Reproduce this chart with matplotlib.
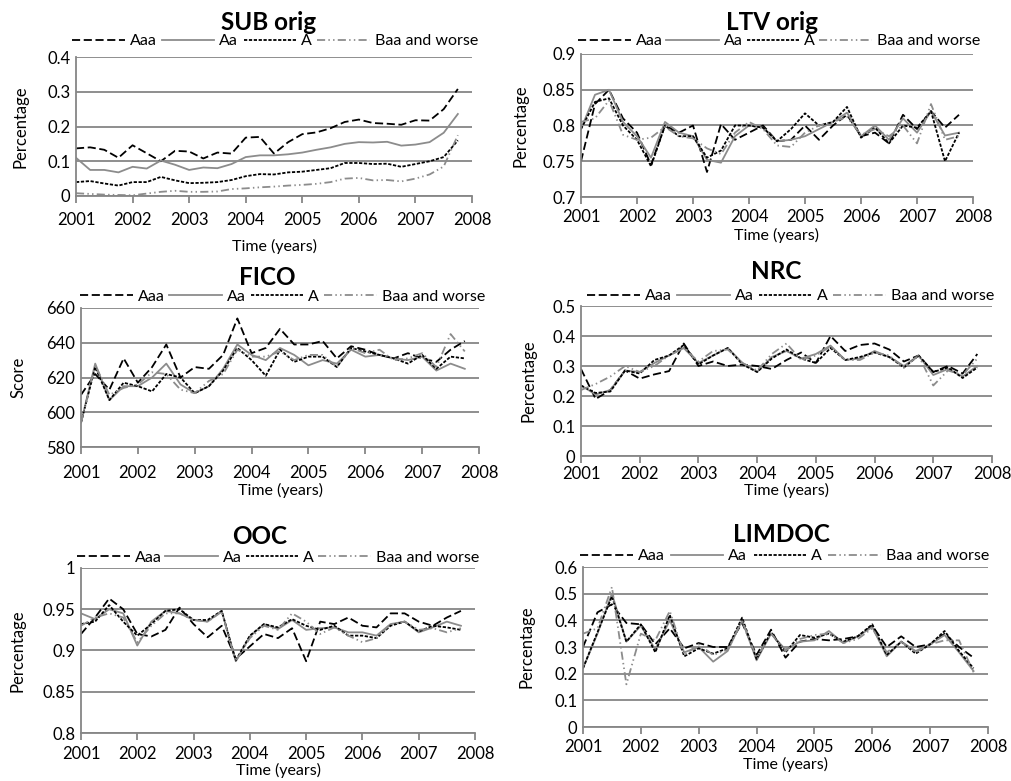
import numpy as np
import matplotlib
matplotlib.use('Agg')
import matplotlib.pyplot as plt

plt.rcParams['font.family'] = ['Lato', 'DejaVu Sans']

quarters = 2001 + np.arange(28) * 0.25
series_names = ['Aaa', 'Aa', 'A', 'Baa and worse']

# SUB orig
sub_aaa = [0.137, 0.14, 0.133, 0.11, 0.146, 0.123, 0.10, 0.13, 0.128, 0.108, 0.125, 0.122, 0.168, 0.17,
           0.122, 0.155, 0.178, 0.183, 0.195, 0.213, 0.22, 0.21, 0.208, 0.205, 0.218, 0.217, 0.25, 0.308]
sub_aa = [0.11, 0.075, 0.075, 0.068, 0.084, 0.079, 0.102, 0.09, 0.075, 0.082, 0.08, 0.092, 0.112, 0.117,
          0.117, 0.12, 0.125, 0.133, 0.14, 0.15, 0.155, 0.154, 0.156, 0.145, 0.148, 0.155, 0.182, 0.236]
sub_a = [0.04, 0.043, 0.036, 0.03, 0.04, 0.04, 0.055, 0.045, 0.037, 0.038, 0.04, 0.046, 0.057, 0.063,
         0.062, 0.068, 0.07, 0.075, 0.08, 0.095, 0.095, 0.092, 0.093, 0.084, 0.092, 0.1, 0.112, 0.16]
sub_baa = [0.008, 0.006, 0.004, 0.003, 0.002, 0.007, 0.012, 0.015, 0.012, 0.012, 0.013, 0.02, 0.022, 0.025,
           0.027, 0.03, 0.032, 0.035, 0.04, 0.05, 0.052, 0.045, 0.046, 0.042, 0.05, 0.062, 0.085, 0.175]

# LTV orig
ltv_aaa = [0.75, 0.83, 0.85, 0.81, 0.79, 0.745, 0.80, 0.79, 0.80, 0.735, 0.802, 0.78, 0.79, 0.80,
           0.778, 0.78, 0.80, 0.78, 0.80, 0.815, 0.785, 0.79, 0.775, 0.815, 0.795, 0.82, 0.797, 0.815]
ltv_aa = [0.795, 0.843, 0.85, 0.805, 0.785, 0.755, 0.805, 0.79, 0.785, 0.752, 0.748, 0.785, 0.80, 0.797,
          0.778, 0.78, 0.785, 0.795, 0.805, 0.818, 0.785, 0.80, 0.78, 0.81, 0.79, 0.82, 0.786, 0.79]
ltv_a = [0.795, 0.833, 0.838, 0.80, 0.78, 0.743, 0.80, 0.785, 0.785, 0.755, 0.765, 0.80, 0.80, 0.797,
         0.778, 0.795, 0.817, 0.80, 0.805, 0.826, 0.783, 0.797, 0.775, 0.80, 0.797, 0.82, 0.75, 0.79]
ltv_baa = [0.805, 0.81, 0.835, 0.787, 0.78, 0.783, 0.798, 0.785, 0.782, 0.768, 0.76, 0.79, 0.805, 0.795,
           0.772, 0.77, 0.79, 0.80, 0.805, 0.812, 0.787, 0.795, 0.785, 0.80, 0.775, 0.83, 0.78, 0.785]

# FICO
fico_aaa = [610, 622, 613, 631, 617, 626, 639, 620, 626, 625, 633, 654, 634, 637,
            648, 639, 639, 641, 631, 638, 636, 633, 631, 634, 631, 629, 636, 641]
fico_aa = [594, 628, 607, 615, 615, 620, 628, 616, 611, 615, 625, 639, 633, 630,
           637, 633, 627, 630, 628, 636, 632, 633, 631, 630, 632, 624, 628, 625]
fico_a = [594, 626, 607, 617, 615, 612, 622, 620, 611, 615, 624, 637, 630, 621,
          636, 629, 632, 632, 626, 637, 635, 633, 631, 628, 633, 625, 632, 631]
fico_baa = [594, 627, 610, 614, 616, 623, 622, 613, 611, 618, 622, 636, 632, 632,
            635, 630, 633, 633, 626, 637, 634, 636, 630, 631, 634, 626, 645, 635]

# NRC
nrc_aaa = [0.29, 0.19, 0.22, 0.285, 0.258, 0.272, 0.283, 0.375, 0.30, 0.315, 0.30, 0.305, 0.30, 0.29,
           0.32, 0.345, 0.31, 0.40, 0.35, 0.37, 0.375, 0.355, 0.315, 0.335, 0.28, 0.30, 0.275, 0.34]
nrc_aa = [0.235, 0.205, 0.22, 0.285, 0.28, 0.31, 0.335, 0.36, 0.31, 0.335, 0.36, 0.31, 0.28, 0.33,
          0.35, 0.325, 0.34, 0.368, 0.32, 0.325, 0.35, 0.33, 0.30, 0.335, 0.27, 0.29, 0.265, 0.30]
nrc_a = [0.235, 0.21, 0.215, 0.285, 0.275, 0.32, 0.335, 0.37, 0.305, 0.335, 0.36, 0.305, 0.28, 0.325,
         0.355, 0.325, 0.31, 0.36, 0.32, 0.33, 0.345, 0.33, 0.295, 0.335, 0.28, 0.295, 0.26, 0.295]
nrc_baa = [0.22, 0.24, 0.265, 0.30, 0.28, 0.30, 0.335, 0.36, 0.315, 0.35, 0.355, 0.31, 0.285, 0.34,
           0.375, 0.32, 0.335, 0.365, 0.32, 0.32, 0.345, 0.335, 0.295, 0.335, 0.235, 0.285, 0.27, 0.325]

# OOC
ooc_aaa = [0.92, 0.94, 0.963, 0.95, 0.92, 0.917, 0.925, 0.952, 0.932, 0.916, 0.93, 0.89, 0.905, 0.92,
           0.915, 0.927, 0.887, 0.935, 0.932, 0.94, 0.93, 0.928, 0.945, 0.945, 0.935, 0.93, 0.94, 0.948]
ooc_aa = [0.945, 0.938, 0.95, 0.945, 0.906, 0.935, 0.948, 0.945, 0.937, 0.935, 0.948, 0.887, 0.917, 0.932,
          0.926, 0.937, 0.925, 0.927, 0.928, 0.922, 0.922, 0.918, 0.932, 0.935, 0.922, 0.928, 0.935, 0.93]
ooc_a = [0.932, 0.935, 0.955, 0.935, 0.918, 0.932, 0.948, 0.95, 0.937, 0.937, 0.948, 0.888, 0.918, 0.932,
         0.928, 0.938, 0.93, 0.925, 0.93, 0.918, 0.918, 0.915, 0.93, 0.935, 0.923, 0.93, 0.928, 0.925]
ooc_baa = [0.93, 0.94, 0.945, 0.94, 0.91, 0.93, 0.945, 0.945, 0.937, 0.935, 0.947, 0.887, 0.915, 0.93,
           0.925, 0.945, 0.935, 0.92, 0.928, 0.918, 0.91, 0.915, 0.932, 0.935, 0.925, 0.927, 0.922, 0.927]

# LIMDOC
lim_aaa = [0.30, 0.43, 0.46, 0.39, 0.385, 0.31, 0.37, 0.295, 0.315, 0.30, 0.30, 0.39, 0.27, 0.365,
           0.26, 0.32, 0.33, 0.325, 0.33, 0.34, 0.38, 0.30, 0.34, 0.30, 0.31, 0.35, 0.30, 0.26]
lim_aa = [0.22, 0.35, 0.50, 0.32, 0.38, 0.29, 0.40, 0.28, 0.30, 0.245, 0.285, 0.40, 0.25, 0.35,
          0.29, 0.32, 0.325, 0.36, 0.315, 0.34, 0.375, 0.265, 0.32, 0.285, 0.31, 0.345, 0.28, 0.21]
lim_a = [0.22, 0.355, 0.49, 0.32, 0.385, 0.28, 0.42, 0.265, 0.295, 0.275, 0.295, 0.41, 0.255, 0.355,
         0.28, 0.345, 0.335, 0.35, 0.32, 0.34, 0.385, 0.27, 0.32, 0.275, 0.31, 0.36, 0.285, 0.22]
lim_baa = [0.35, 0.37, 0.525, 0.16, 0.35, 0.325, 0.435, 0.27, 0.31, 0.27, 0.29, 0.40, 0.26, 0.35,
           0.285, 0.33, 0.345, 0.35, 0.315, 0.33, 0.37, 0.28, 0.32, 0.28, 0.31, 0.325, 0.325, 0.205]

W, H = 1011, 781
fig = plt.figure(figsize=(W / 100, H / 100), dpi=100)

GRAY = '#8c8c8c'
GRID = '#868686'
styles = [
    dict(color='black', dashes=(4.5, 2.0)),
    dict(color=GRAY, linestyle='-'),
    dict(color='black', dashes=(1.8, 0.9)),
    dict(color=GRAY, dashes=(4.5, 1.8, 0.8, 1.8, 0.8, 1.8)),
]


def panel(box, title, title_xy, leg, data, ylim, ystep, ylabel, ylab_x, tick_y, xlab_y):
    # box: left, top, right, bottom in pixels
    l, t, r, b = box
    ax = fig.add_axes([l / W, 1 - b / H, (r - l) / W, (b - t) / H])
    hpx = b - t
    for vals, name, st in zip(data, series_names, styles):
        ax.plot(quarters, vals, lw=1.3, label=name, **st)
    ax.set_xlim(2001, 2008)
    ax.set_ylim(*ylim)
    ax.set_xticks(range(2001, 2009))
    yt = np.round(np.arange(ylim[0], ylim[1] + ystep / 2, ystep), 4)
    ax.set_yticks(yt)
    ax.set_yticklabels(['{:g}'.format(v) for v in yt])
    ax.grid(axis='y', color=GRID, lw=1.3)
    ax.set_axisbelow(True)
    for s in ['top', 'right']:
        ax.spines[s].set_visible(False)
    ax.spines['left'].set_color(GRID)
    ax.spines['bottom'].set_color(GRID)
    ax.spines['left'].set_linewidth(1.3)
    ax.spines['bottom'].set_linewidth(1.3)
    ax.tick_params(axis='y', length=0, labelsize=12, pad=4)
    ax.tick_params(axis='x', length=5, width=1.3, color=GRID, labelsize=12,
                   pad=(tick_y - b - 5) * 0.72 - 6)
    ax.set_xlabel('Time (years)', fontsize=11.5)
    ax.xaxis.set_label_coords(0.5, -(xlab_y + 1 - b) / hpx)
    ax.xaxis.label.set_va('center')
    ax.set_ylabel(ylabel, fontsize=12)
    ax.yaxis.set_label_coords(-(l - ylab_x) / (r - l), 0.5)
    ax.yaxis.label.set_va('center')
    fig.text(title_xy[0] / W, 1 - title_xy[1] / H, title, fontsize=17.5, fontweight='bold',
             ha='center', va='center')
    lx0, lx1, ly = leg
    fig.legend(*ax.get_legend_handles_labels(), loc='center', ncol=4, mode='expand',
               bbox_to_anchor=(lx0 / W, 1 - (ly + 8) / H, (lx1 - lx0) / W, 16 / H),
               frameon=False, fontsize=11.5, handlelength=3.3, handletextpad=0.3,
               borderpad=0, borderaxespad=0)
    return ax


panel((76, 57, 472, 196), 'SUB orig', (269, 23), (72, 478, 41),
      [sub_aaa, sub_aa, sub_a, sub_baa], (0, 0.4), 0.1, 'Percentage', 20, 218, 245)
panel((581, 54, 973, 197), 'LTV orig', (772, 22), (578, 980, 41),
      [ltv_aaa, ltv_aa, ltv_a, ltv_baa], (0.7, 0.9), 0.05, 'Percentage', 520, 215, 234)
panel((81, 308, 479, 447), 'FICO', (267, 278), (80, 485, 297),
      [fico_aaa, fico_aa, fico_a, fico_baa], (580, 660), 20, 'Score', 18, 471, 489)
panel((581, 306, 992, 456), 'NRC', (776, 271), (587, 994, 296),
      [nrc_aaa, nrc_aa, nrc_a, nrc_baa], (0, 0.5), 0.1, 'Percentage', 528, 472, 489)
panel((81, 568, 475, 733), 'OOC', (260, 537), (77, 479, 558),
      [ooc_aaa, ooc_aa, ooc_a, ooc_baa], (0.8, 1.0), 0.05, 'Percentage', 17, 752, 769)
panel((583, 567, 988, 727), 'LIMDOC', (781, 535), (580, 989, 556),
      [lim_aaa, lim_aa, lim_a, lim_baa], (0, 0.6), 0.1, 'Percentage', 527, 745, 763)

fig.savefig('out.png', dpi=100)
